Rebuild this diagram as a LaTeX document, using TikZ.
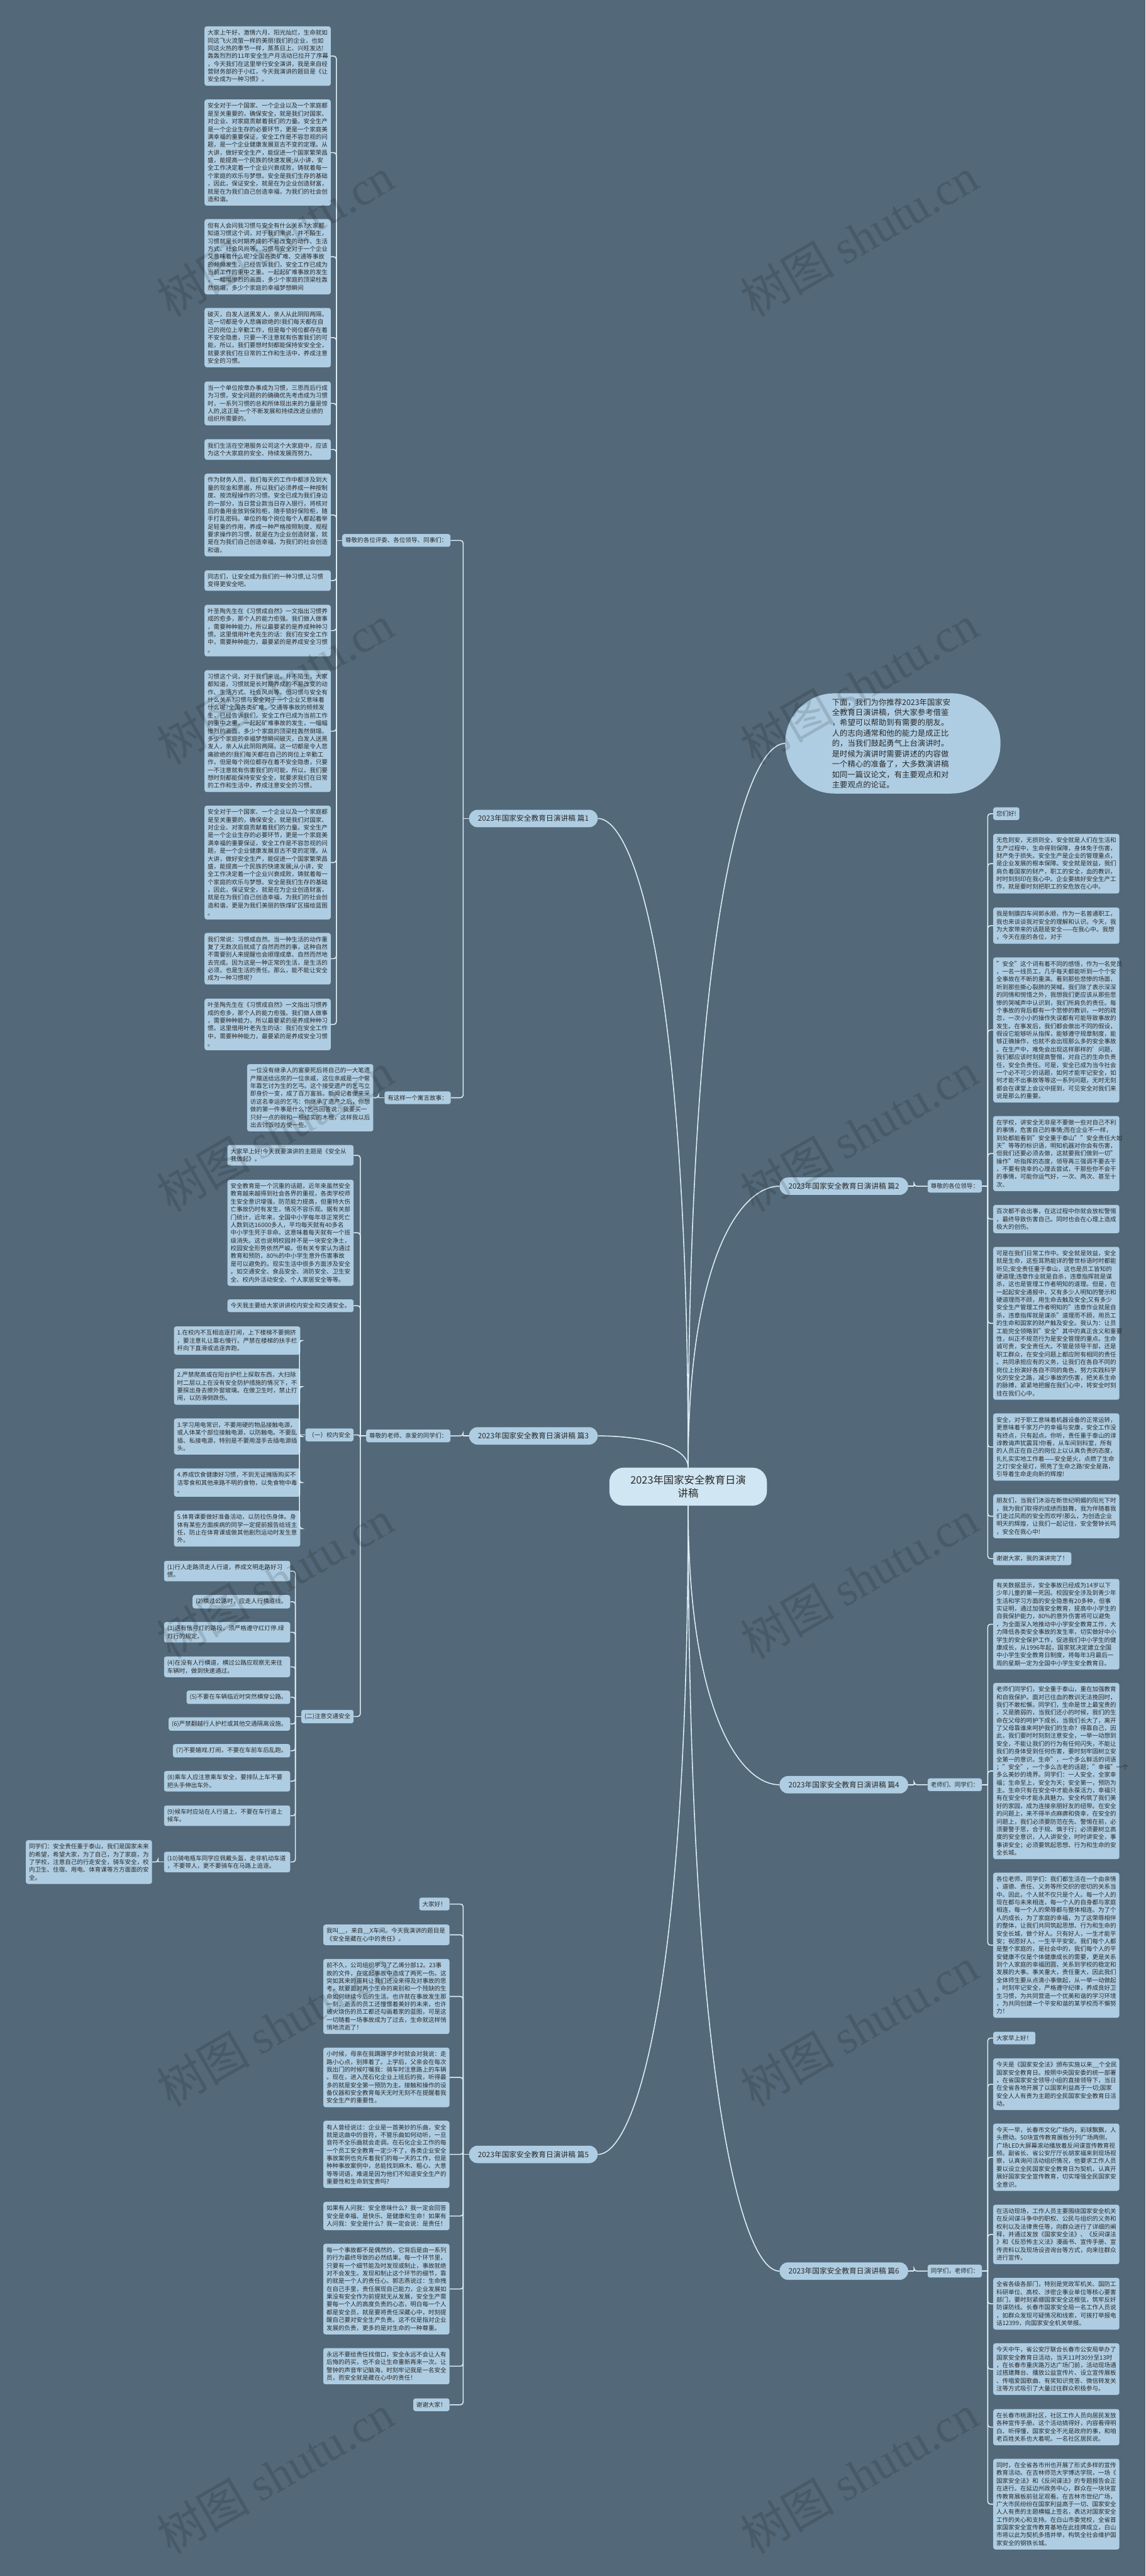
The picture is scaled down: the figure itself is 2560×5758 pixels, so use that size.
\documentclass[tikz,border=0pt]{standalone}
\usepackage{fontspec}
\setmainfont{Noto Sans CJK SC}
\newfontfamily\wmlat{Liberation Serif}
\usetikzlibrary{calc}
\definecolor{bg}{HTML}{536878}
\definecolor{boxc}{HTML}{AFCDE2}
\definecolor{ctrc}{HTML}{D0E6F2}
\definecolor{linec}{HTML}{DCEEF6}
\definecolor{txt}{HTML}{2A2A2A}
\tikzset{
 conn/.style={draw=linec, line width=2.2pt},
 tbox/.style={fill=boxc, rounded corners=5pt, text=txt, font=\fontsize{13.4}{17.4}\selectfont, inner xsep=7pt, inner ysep=8pt, align=left},
 wbox/.style={tbox, text width=268pt},
 lbl/.style={fill=boxc, rounded corners=19pt, text=txt, font=\fontsize{16.5}{20}\selectfont, inner xsep=20pt, minimum height=39pt},
 ctrnode/.style={fill=ctrc, rounded corners=32pt, text=txt, font=\fontsize{23}{30}\selectfont, minimum width=352pt, minimum height=85pt, align=center},
 intronode/.style={fill=boxc, rounded corners=110pt, text=txt, font=\fontsize{17.4}{23.1}\selectfont, minimum width=481pt, minimum height=224pt, text width=272pt, align=left},
 wm/.style={rotate=30, text=black, text opacity=0.13, font=\fontsize{105}{105}\selectfont}
}
\newcommand\lbr[2]{\draw[conn] (#1.west) -- ++(-13,0) coordinate (T#1);
 \foreach \ch in {#2}{\draw[conn, rounded corners=6pt] (T#1) |- (\ch.east);}}
\newcommand\rbr[2]{\draw[conn] (#1.east) -- ++(13,0) coordinate (T#1);
 \foreach \ch in {#2}{\draw[conn, rounded corners=6pt] (T#1) |- (\ch.west);}}
\begin{document}
\begin{tikzpicture}[x=1pt,y=-1pt]
\fill[bg] (0,0) rectangle (2560,5758);
\useasboundingbox (0,0) rectangle (2560,5758);

% centre and intro
\node[ctrnode] (ctr) at (1538,3323) {2023年国家安全教育日演\\讲稿};
\node[intronode] (intro) at (1995.5,1661.7) {下面，我们为你推荐2023年国家安\\全教育日演讲稿，供大家参考借鉴\\，希望可以帮助到有需要的朋友。\\人的志向通常和他的能力是成正比\\的，当我们鼓起勇气上台演讲时。\\是时候为演讲时需要讲述的内容做\\一个精心的准备了，大多数演讲稿\\如同一篇议论文，有主要观点和对\\主要观点的论证。};

% branch labels
\node[lbl,anchor=east] (p1) at (1336,1829.5) {2023年国家安全教育日演讲稿 篇1};
\node[lbl,anchor=west] (p2) at (1742,2651.4) {2023年国家安全教育日演讲稿 篇2};
\node[lbl,anchor=east] (p3) at (1336,3209.5) {2023年国家安全教育日演讲稿 篇3};
\node[lbl,anchor=west] (p4) at (1742,3989.3) {2023年国家安全教育日演讲稿 篇4};
\node[lbl,anchor=east] (p5) at (1336,4815.6) {2023年国家安全教育日演讲稿 篇5};
\node[lbl,anchor=west] (p6) at (1742,5076.4) {2023年国家安全教育日演讲稿 篇6};

% ---------- 篇1 ----------
\node[tbox,anchor=east] (pA) at (1007,1208) {尊敬的各位评委、各位领导、同事们：};
\node[tbox,anchor=east] (pB) at (1007.6,2453.7) {有这样一个寓言故事：};
\node[wbox,anchor=east] (A1) at (739.4,125.3) {大家上午好，激情六月、阳光灿烂，生命就如\\同这飞火流萤一样的美丽!我们的企业，也如\\同这火热的季节一样，蒸蒸日上、兴旺发达!\\轰轰烈烈的11年安全生产月活动已拉开了序幕\\，今天我们在这里举行安全演讲，我是来自经\\营财务部的于小红，今天我演讲的题目是《让\\安全成为一种习惯》。};
\node[wbox,anchor=east] (A2) at (739.4,341) {安全对于一个国家、一个企业以及一个家庭都\\是至关重要的，确保安全，就是我们对国家、\\对企业、对家庭贡献着我们的力量。安全生产\\是一个企业生存的必要环节，更是一个家庭美\\满幸福的重要保证，安全工作是不容忽视的问\\题，是一个企业健康发展亘古不变的定理。从\\大讲，做好安全生产，能促进一个国家繁荣昌\\盛，能提高一个民族的快速发展;从小讲，安\\全工作决定着一个企业兴衰成败，铸就着每一\\个家庭的欢乐与梦想。安全是我们生存的基础\\，因此，保证安全，就是在为企业创造财富，\\就是在为我们自己创造幸福，为我们的社会创\\造和谐。};
\node[wbox,anchor=east] (A3) at (739.4,573.9) {但有人会问我习惯与安全有什么关系?大家都\\知道习惯这个词，对于我们来说，并不陌生，\\习惯就是长时期养成的不易改变的动作、生活\\方式、社会风尚等。习惯与安全对于一个企业\\又意味着什么呢?全国各类矿难、交通等事故\\的频频发生，已经告诉我们，安全工作已成为\\当前工作的重中之重。一起起矿难事故的发生\\，一幅幅惨烈的画面，多少个家庭的顶梁柱轰\\然倒塌，多少个家庭的幸福梦想瞬间};
\node[wbox,anchor=east] (A4) at (739.4,754.6) {破灭，白发人送黑发人，亲人从此阴阳两隔，\\这一切都是令人悲痛欲绝的!我们每天都在自\\己的岗位上辛勤工作，但是每个岗位都存在着\\不安全隐患，只要一不注意就有伤害我们的可\\能，所以，我们要想时刻都能保持安安全全，\\就要求我们在日常的工作和生活中，养成注意\\安全的习惯。};
\node[wbox,anchor=east] (A5) at (739.4,901.7) {当一个单位按章办事成为习惯，三思而后行成\\为习惯，安全问题的的确确优先考虑成为习惯\\时，一系列习惯的总和所体现出来的力量是惊\\人的,这正是一个不断发展和持续改进业绩的\\组织所需要的。};
\node[wbox,anchor=east] (A6) at (739.4,1004.7) {我们生活在空港服务公司这个大家庭中，应该\\为这个大家庭的安全、持续发展而努力。};
\node[wbox,anchor=east] (A7) at (739.4,1151.2) {作为财务人员，我们每天的工作中都涉及到大\\量的现金和票据，所以我们必须养成一种按制\\度、按流程操作的习惯。安全已成为我们身边\\的一部分，当日营业款当日存入银行，将核对\\后的备用金放到保险柜，随手锁好保险柜，随\\手打乱密码。单位的每个岗位每个人都起着举\\足轻重的作用，养成一种严格按照制度、规程\\要求操作的习惯，就是在为企业创造财富，就\\是在为我们自己创造幸福，为我们的社会创造\\和谐。};
\node[wbox,anchor=east] (A8) at (739.4,1297.7) {同志们，让安全成为我们的一种习惯,让习惯\\变得更安全吧。};
\node[wbox,anchor=east] (A9) at (739.4,1409.5) {叶圣陶先生在《习惯成自然》一文指出习惯养\\成的愈多，那个人的能力愈强。我们做人做事\\，需要种种能力，所以最要紧的是养成种种习\\惯。这里借用叶老先生的话：我们在安全工作\\中，需要种种能力，最要紧的是养成安全习惯\\。};
\node[wbox,anchor=east] (A10) at (739.4,1634.3) {习惯这个词，对于我们来说，并不陌生，大家\\都知道，习惯就是长时期养成的不易改变的动\\作、生活方式、社会风尚等。但习惯与安全有\\什么关系?习惯与安全对于一个企业又意味着\\什么呢?全国各类矿难、交通等事故的频频发\\生，已经告诉我们，安全工作已成为当前工作\\的重中之重。一起起矿难事故的发生，一幅幅\\惨烈的画面，多少个家庭的顶梁柱轰然倒塌，\\多少个家庭的幸福梦想瞬间破灭，白发人送黑\\发人，亲人从此阴阳两隔，这一切都是令人悲\\痛欲绝的!我们每天都在自己的岗位上辛勤工\\作，但是每个岗位都存在着不安全隐患，只要\\一不注意就有伤害我们的可能，所以，我们要\\想时刻都能保持安安全全，就要求我们在日常\\的工作和生活中，养成注意安全的习惯。};
\node[wbox,anchor=east] (A11) at (739.4,1928) {安全对于一个国家、一个企业以及一个家庭都\\是至关重要的，确保安全，就是我们对国家、\\对企业、对家庭贡献着我们的力量。安全生产\\是一个企业生存的必要环节，更是一个家庭美\\满幸福的重要保证，安全工作是不容忽视的问\\题，是一个企业健康发展亘古不变的定理。从\\大讲，做好安全生产，能促进一个国家繁荣昌\\盛，能提高一个民族的快速发展;从小讲，安\\全工作决定着一个企业兴衰成败，铸就着每一\\个家庭的欢乐与梦想。安全是我们生存的基础\\，因此，保证安全，就是在为企业创造财富，\\就是在为我们自己创造幸福，为我们的社会创\\造和谐，更是为我们美丽的铁煤矿区描绘蓝图\\。};
\node[wbox,anchor=east] (A12) at (739.4,2142.9) {我们常说：习惯成自然。当一种生活的动作重\\复了无数次后就成了自然而然的事，这种自然\\不需要别人来提醒也会顺理成章、自然而然地\\去完成。因为这是一种正常的生活，是生活的\\必须。也是生活的责任。那么，能不能让安全\\成为一种习惯呢?};
\node[wbox,anchor=east] (A13) at (739.4,2289.9) {叶圣陶先生在《习惯成自然》一文指出习惯养\\成的愈多，那个人的能力愈强。我们做人做事\\，需要种种能力，所以最要紧的是养成种种习\\惯。这里借用叶老先生的话：我们在安全工作\\中，需要种种能力，最要紧的是养成安全习惯\\。};
\node[wbox,anchor=east] (B1) at (834.5,2453.7) {一位没有继承人的富豪死后将自己的一大笔遗\\产赠送给远房的一位亲戚，这位亲戚是一个常\\年靠乞讨为生的乞丐。这个接受遗产的乞丐立\\即身价一变，成了百万富翁。新闻记者便来采\\访这名幸运的乞丐：你继承了遗产之后，你想\\做的第一件事是什么?乞丐回答说：我要买一\\只好一点的碗和一根结实的木棍，这样我以后\\出去讨饭时方便一些。};

% ---------- 篇3 ----------
\node[tbox,anchor=east] (pC) at (1006.8,3209.5) {尊敬的老师、亲爱的同学们：};
\node[wbox,anchor=east] (C1) at (790.5,2582.4) {大家早上好!今天我要演讲的主题是《安全从\\我做起》。};
\node[wbox,anchor=east] (C2) at (790.5,2755.5) {安全教育是一个沉重的话题，近年来虽然安全\\教育越来越得到社会各界的重视，各类学校师\\生安全意识增强，防范能力提高，但重特大伤\\亡事故仍时有发生，情况不容乐观。据有关部\\门统计，近年来，全国中小学每年非正常死亡\\人数到达16000多人，平均每天就有40多名\\中小学生死于非命。这意味着每天就有一个班\\级消失。这也说明校园并不是一块安全净土，\\校园安全形势依然严峻。但有关专家认为通过\\教育和预防，80\%的中小学生意外伤害事故\\是可以避免的。现实生活中很多方面涉及安全\\。如交通安全、食品安全、消防安全、卫生安\\全、校内外活动安全、个人家居安全等等。};
\node[tbox,anchor=east] (C3) at (790.5,2918.6) {今天我主要给大家讲讲校内安全和交通安全。};
\node[tbox,anchor=east] (pD) at (790.5,3207.3) {（一）校内安全};
\node[tbox,anchor=east] (pE) at (790.5,3836.9) {(二)注意交通安全};
\node[wbox,anchor=east] (D1) at (671.2,2996.4) {1.在校内不互相追逐打闹，上下楼梯不要拥挤\\，要注意礼让靠右慢行。严禁在楼梯的扶手栏\\杆向下直滑或追逐奔跑。};
\node[wbox,anchor=east] (D2) at (671.2,3099.4) {2.严禁爬高或在阳台护栏上探取东西，大扫除\\时二层以上在没有安全防护措施的情况下，不\\要探出身去擦外窗玻璃。在做卫生时，禁止打\\闹，以防滑倒跌伤。};
\node[wbox,anchor=east] (D3) at (671.2,3210.9) {3.学习用电常识，不要用硬的物品接触电源，\\或人体某个部位接触电源，以防触电。不要乱\\插、私接电源，特别是不要用湿手去插电源插\\头。};
\node[wbox,anchor=east] (D4) at (671.2,3313.9) {4.养成饮食健康好习惯，不到无证摊贩购买不\\洁零食和其他来路不明的食物，以免食物中毒\\。};
\node[wbox,anchor=east] (D5) at (671.2,3416.7) {5.体育课要做好准备活动，以防拉伤身体。身\\体有某些方面疾病的同学一定提前报告给班主\\任，防止在体育课或做其他剧烈运动时发生意\\外。};
\node[wbox,anchor=east] (E1) at (648.8,3511.7) {(1)行人走路须走人行道，养成文明走路好习\\惯。};
\node[tbox,anchor=east] (E2) at (648.8,3580.2) {(2)横过公路时，应走人行横道线。};
\node[wbox,anchor=east] (E3) at (648.8,3648.5) {(3)遇有信号灯的路段，须严格遵守红灯停.绿\\灯行的规定。};
\node[wbox,anchor=east] (E4) at (648.8,3725.7) {(4)在没有人行横道，横过公路应观察无来往\\车辆时，做到快速通过。};
\node[tbox,anchor=east] (E5) at (648.8,3793.7) {(5)不要在车辆临近时突然横穿公路。};
\node[tbox,anchor=east] (E6) at (648.8,3853.4) {(6)严禁翻越行人护栏或其他交通隔离设施。};
\node[tbox,anchor=east] (E7) at (648.8,3913.3) {(7)不要嬉戏.打闹，不要在车前车后乱跑。};
\node[wbox,anchor=east] (E8) at (648.8,3981.4) {(8)乘车人应注意乘车安全，要排队上车不要\\把头手伸出车外。};
\node[wbox,anchor=east] (E9) at (648.8,4058.6) {(9)候车时应站在人行道上，不要在车行道上\\候车。};
\node[wbox,anchor=east] (E10) at (648.8,4162) {(10)骑电瓶车同学应佩戴头盔，走非机动车道\\，不要带人，更不要骑车在马路上追逐。};
\node[wbox,anchor=east] (F1) at (340,4162) {同学们：安全责任重于泰山，我们是国家未来\\的希望，希望大家，为了自己，为了家庭，为\\了学校，注意自己的行走安全，骑车安全，校\\内卫生、住宿、用电、体育课等方方面面的安\\全。};

% ---------- 篇5 ----------
\node[tbox,anchor=east] (G0) at (1004.8,4256) {大家好！};
\node[wbox,anchor=east] (G1) at (1004.8,4324.8) {我叫\_\_，来自\_\_X车间。今天我演讲的题目是\\《安全是藏在心中的责任》。};
\node[wbox,anchor=east] (G2) at (1004.8,4462.5) {前不久，公司组织学习了乙烯分部12。23事\\故的文件，在这起事故中造成了两死一伤。这\\突如其来的噩耗让我们还没来得及对事故的思\\考，就要面对两个生命的离别和一个残缺的生\\命如何继续今后的生活。也许就在事故发生那\\一刻，逝去的员工还憧憬着美好的未来，也许\\被火烧伤的员工都还勾画着家的蓝图，可是这\\一切随着一场事故成为了过去，生命就这样悄\\悄地流逝了！};
\node[wbox,anchor=east] (G3) at (1004.8,4643.5) {小时候，母亲在我蹒跚学步时就会对我说：走\\路小心点，别摔着了。上学后，父亲会在每次\\我出门的时候叮嘱我：骑车时注意路上的车辆\\。现在，进入茂石化企业上班后的我，听得最\\多的就是安全第一预防为主。接触和操作的设\\备仪器和安全教育每天无时无刻不在提醒着我\\安全生产的重要性。};
\node[wbox,anchor=east] (G4) at (1004.8,4815.6) {有人曾经说过：企业是一首美妙的乐曲，安全\\就是这曲中的音符，不管乐曲如何动听，一旦\\音符不全乐曲就会走调。在石化企业工作的每\\一个员工安全教育一定少不了，各类企业安全\\事故案例也充斥着我们的每一天的工作，但是\\种种事故案例中，总能找到麻木、粗心、大意\\等等词语，难道是因为他们不知道安全生产的\\重要性和生命到宝贵吗?};
\node[wbox,anchor=east] (G5) at (1004.8,4953.3) {如果有人问我：安全意味什么？我一定会回答\\安全是幸福、是快乐、是健康和生命！如果有\\人问我：安全是什么？我一定会说：是责任！};
\node[wbox,anchor=east] (G6) at (1004.8,5116.5) {每一个事故都不是偶然的，它背后是由一系列\\的行为最终导致的必然结果。每一个环节里，\\只要有一个细节能及时发现或制止，事故就绝\\对不会发生。发现和制止这个环节的细节，靠\\的就是一个人的责任心。郭志燕说过：生命拽\\在自己手里，责任展现自己能力，企业发展如\\果没有安全作为前提就无从发展，安全生产需\\要每一个人的高度负责的心态，明白每一个人\\都是安全员，就是要将责任深藏心中，时刻提\\醒自己要对安全生产负责。这不仅是指对企业\\发展的负责，更多的是对生命的一种尊重。};
\node[wbox,anchor=east] (G7) at (1004.8,5289) {永远不要给责任找借口，安全永远不会让人有\\后悔的药买，也不会让生命重新再来一次。让\\警钟的声音牢记脑海，时刻牢记我是一名安全\\员，而安全就是藏在心中的责任！};
\node[tbox,anchor=east] (G8) at (1004.8,5375.2) {谢谢大家！};

% ---------- 篇2 ----------
\node[tbox,anchor=west] (pH) at (2073,2651.4) {尊敬的各位领导：};
\node[tbox,anchor=west] (H1) at (2219.6,1818.8) {您们好!};
\node[wbox,anchor=west] (H2) at (2219.6,1930.4) {无危则安，无损则全，安全就是人们在生活和\\生产过程中，生命得到保障，身体免于伤害，\\财产免于损失。安全生产是企业的管理重点，\\是企业发展的根本保障。安全就是效益，我们\\肩负着国家的财产，职工的安全，血的教训，\\时时刻刻印在我心中。企业要搞好安全生产工\\作，就是要时刻把职工的安危放在心中。};
\node[wbox,anchor=west] (H3) at (2219.6,2069) {我是制膜四车间郭永顺，作为一名普通职工，\\我也来谈谈我对安全的理解和认识。今天，我\\为大家带来的话题是安全——在我心中。我想\\，今天在座的各位，对于};
\node[wbox,anchor=west] (H4) at (2219.6,2302.2) {"安全"这个词有着不同的感悟，作为一名党员\\，一名一线员工，几乎每天都能听到一个个安\\全事故在不断的重演。看到那些悲惨的场面，\\听到那些撕心裂肺的哭喊，我们除了表示深深\\的同情和惋惜之外，我想我们更应该从那些悲\\惨的哭喊声中认识到，我们所肩负的责任。每\\个事故的背后都有一个悲惨的教训，一时的疏\\忽，一次小小的操作失误都有可能导致事故的\\发生。在事发后，我们都会做出不同的假设，\\假设它能够听从指挥，能够遵守规章制度，能\\够正确操作，也就不会出现那么多的安全事故\\。在生产中，难免会出现这样那样的'问题，\\我们都应该时刻提高警惕，对自己的生命负责\\任，安全负责任。可是，安全已成为当今社会\\一个必不可少的话题，如何才能牢记安全，如\\何才能不出事故等等这一系列问题，无时无刻\\都会在课堂上会议中提到，可见安全对我们来\\说是那么的重要。};
\node[wbox,anchor=west] (H5) at (2219.6,2578.4) {在学校，讲安全无非是不要做一些对自己不利\\的事情，危害自己的事情;而在企业不一样，\\到处都能看到"安全重于泰山""安全责任大如\\天"等等的标识语，明知机器对你会有伤害，\\但我们还要必须去做，这就要我们做到一切"\\操作"听指挥的态度，领导再三强调不要去干\\，不要有侥幸的心理去尝试，干那些你不会干\\的事情，可能你运气好，一次、两次、甚至十\\次、};
\node[wbox,anchor=west] (H6) at (2219.6,2724.9) {百次都不会出事，在这过程中你就会放松警惕\\，最终导致伤害自己。同时也会在心理上造成\\极大的创伤。};
\node[wbox,anchor=west] (H7) at (2219.6,2957.8) {可是在我们日常工作中。安全就是效益，安全\\就是生命，这些耳熟能详的警世标语时时都能\\听见;安全责任重于泰山，这也是员工皆知的\\硬道理;违章作业就是自杀，违章指挥就是谋\\杀，这也是管理工作者明知的道理。但是，在\\一起起安全通报中，又有多少人明知的警示和\\硬道理而不顾，用生命去触及安全;又有多少\\安全生产管理工作者明知的"违章作业就是自\\杀，违章指挥就是谋杀"道理而不顾，用员工\\的生命和国家的财产触及安全。我认为：让员\\工能完全领略到"安全"其中的真正含义和重要\\性，纠正不规范行为是安全管理的重点。生命\\诚可贵，安全责任大。不管是领导干部，还是\\职工群众，在安全问题上都应附有相同的责任\\。共同承担应有的义务，让我们在各自不同的\\岗位上扮演好各自不同的角色，努力实践科学\\化的安全之路，减少事故的伤害，把关系生命\\的脉搏，紧紧地把握在我们心中，将安全时刻\\挂在我们心中。};
\node[wbox,anchor=west] (H8) at (2219.6,3234.5) {安全，对于职工意味着机器设备的正常运转，\\更意味着千家万户的幸福与安康，安全工作没\\有终点，只有起点。你听，责任重于泰山的谆\\谆教诲声犹震耳!你看，从车间到科室，所有\\的人员正在自己的岗位上以认真负责的态度，\\扎扎实实地工作着——安全是火，点燃了生命\\之灯!安全是灯，照亮了生命之路!安全是路，\\引导着生命走向新的辉煌!};
\node[wbox,anchor=west] (H9) at (2219.6,3389.2) {朋友们，当我们沐浴在新世纪明媚的阳光下时\\，我为我们取得的成绩而鼓舞，我为伴随着我\\们走过风雨的安全而欢呼!那么，为创造企业\\明天的辉煌，让我们一起记住，安全警钟长鸣\\，安全在我心中!};
\node[tbox,anchor=west] (H10) at (2219.6,3483.9) {谢谢大家，我的演讲完了！};

% ---------- 篇4 ----------
\node[tbox,anchor=west] (pI) at (2073,3989.3) {老师们、同学们：};
\node[wbox,anchor=west] (I1) at (2219.6,3630.6) {有关数据显示，安全事故已经成为14岁以下\\少年儿童的第一死因。校园安全涉及到青少年\\生活和学习方面的安全隐患有20多种，但事\\实证明，通过加强安全教育，提高中小学生的\\自我保护能力，80\%的意外伤害将可以避免\\，为全面深入地推动中小学安全教育工作，大\\力降低各类安全事故的发生率，切实做好中小\\学生的安全保护工作，促进我们中小学生的健\\康成长，从1996年起，国家就决定建立全国\\中小学生安全教育日制度，将每年3月最后一\\周的星期一定为全国中小学生安全教育日。};
\node[wbox,anchor=west] (I2) at (2219.6,3958.6) {老师们同学们，安全重于泰山，重在加强教育\\和自我保护。面对已往血的教训无法挽回时，\\我们不敢松懈。同学们，生命是世上最宝贵的\\，又是脆弱的，当我们还小的时候，我们的生\\命在父母的呵护下成长，当我们长大了，离开\\了父母靠谁来呵护我们的生命？得靠自己，因\\此，我们要时时刻刻注意安全，一举一动想到\\安全，不能让我们的行为有任何闪失，不能让\\我们的身体受到任何伤害，要时刻牢固树立安\\全第一的意识。生命"，一个多么鲜活的词语\\；"安全"，一个多么古老的话题；"幸福"一个\\多么美妙的境界。同学们：一人安全，全家幸\\福；生命至上，安全为天；安全第一，预防为\\主。生命只有在安全中才能永葆活力，幸福只\\有在安全中才能永具魅力。安全构筑了我们美\\好的家园，成为连接亲朋好友的纽带。在安全\\的问题上，来不得半点麻痹和侥幸，在安全的\\问题上，我们必须要防范在先、警惕在前，必\\须要警于思，合于规、慎于行；必须要树立高\\度的安全意识，人人讲安全，时时讲安全，事\\事讲安全；必须要筑起思想、行为和生命的安\\全长城。};
\node[wbox,anchor=west] (I3) at (2219.6,4347.9) {各位老师、同学们：我们都生活在一个由亲情\\、道德、责任、义务等所交织的密切的关系当\\中。因此，个人就不仅只是个人。每一个人的\\现在都与未来相连，每一个人的自身都与家庭\\相连，每一个人的荣辱都与整体相连。为了个\\人的成长，为了家庭的幸福，为了这荣辱相伴\\的整体，让我们共同筑起思想、行为和生命的\\安全长城，做个好人。只有好人，一生才能平\\安；祝愿好人，一生平平安安。我们每个人都\\是整个家庭的，是社会中的，我们每个人的平\\安健康不仅是个体健康成长的需要，更是关系\\到个人家庭的幸福团圆，关系到学校的稳定和\\发展的大事。事关重大，责任重大，因此我们\\全体师生要从点滴小事做起，从一举一动做起\\，时刻牢记安全，严格遵守纪律，养成良好卫\\生习惯，为共同营造一个优美和谐的学习环境\\，为共同创建一个平安和谐的某学校而不懈努\\力！};

% ---------- 篇6 ----------
\node[tbox,anchor=west] (pJ) at (2073,5076.4) {同学们，老师们：};
\node[tbox,anchor=west] (J1) at (2219.6,4555.5) {大家早上好！};
\node[wbox,anchor=west] (J2) at (2219.6,4658.7) {今天是《国家安全法》颁布实施以来\_\_个全民\\国家安全教育日。按照中央国安委的统一部署\\，在省国家安全领导小组的直接领导下，当日\\在全省各地开展了以国家利益高于一切;国家\\安全人人有责为主题的全民国家安全教育日活\\动。};
\node[wbox,anchor=west] (J3) at (2219.6,4821.8) {今天一早，长春市文化广场内，彩球飘飘，人\\头攒动。50块宣传教育展板分列广场两侧，\\广场LED大屏幕滚动播放着反间谍宣传教育视\\频。副省长、省公安厅厅长胡家福来到现场视\\察，认真询问活动组织情况，他要求工作人员\\要以设立全民国家安全教育日为契机，认真开\\展好国家安全宣传教育，切实增强全民国家安\\全意识。};
\node[wbox,anchor=west] (J4) at (2219.6,4994.5) {在活动现场，工作人员主要围绕国家安全机关\\在反间谍斗争中的职权、公民与组织的义务和\\权利以及法律责任等，向群众进行了详细的阐\\释，并通过发放《国家安全法》、《反间谍法\\》和《反恐怖主义法》漫画书、宣传手册、宣\\传资料以及现场设咨询台等方式，向来往群众\\进行宣传。};
\node[wbox,anchor=west] (J5) at (2219.6,5149.4) {全省各级各部门，特别是党政军机关、国防工\\科研单位、高校、涉密企事业单位等核心要害\\部门，要时刻紧绷国家安全这根弦，筑牢反奸\\防谍防线。长春市国家安全局一名工作人员说\\，如群众发现可疑情况和线索，可拨打举报电\\话12399，向国家安全机关举报。};
\node[wbox,anchor=west] (J6) at (2219.6,5295.4) {今天中午，省公安厅联合长春市公安局举办了\\国家安全教育日活动，当天11时30分至13时\\，在长春市重庆路万达广场门前，活动现场通\\过搭建舞台、播放公益宣传片、设立宣传展板\\、传唱爱国歌曲、有奖知识竞答、微信转发关\\注等方式吸引了大量过往群众积极参与。};
\node[wbox,anchor=west] (J7) at (2219.6,5425.3) {在长春市桃源社区，社区工作人员向居民发放\\各种宣传手册。这个活动搞得好，内容看得明\\白、听得懂，国家安全不光是政府的事，和咱\\老百姓关系也大着呢。一名社区居民说。};
\node[wbox,anchor=west] (J8) at (2219.6,5597.3) {同时，在全省各市州也开展了形式多样的宣传\\教育活动。在吉林师范大学博达学院，一场《\\国家安全法》和《反间谍法》的专题报告会正\\在进行。在延边州政务中心，群众在一块块宣\\传教育展板前驻足观看。在吉林市世纪广场，\\广大市民纷纷在国家利益高于一切、国家安全\\人人有责的主题横幅上签名，表达对国家安全\\工作的关心和支持。在白山市委党校，全省首\\家国家安全宣传教育基地在此挂牌成立，白山\\市将以此为契机多措并举，构筑全社会维护国\\家安全的钢铁长城。};

% ---------- connectors ----------
\draw[conn] (ctr.north) .. controls (1538,2075) and (1664,1662) .. (intro.west);
\draw[conn] (ctr.north) .. controls (1538,2199) and (1421,1829.5) .. (p1.east);
\draw[conn] (ctr.north) .. controls (1538,2812) and (1656,2651.4) .. (p2.west);
\draw[conn] (ctr.north) .. controls (1538,3227) and (1421,3209.5) .. (p3.east);
\draw[conn] (ctr.south) .. controls (1538,3830) and (1656,3989.3) .. (p4.west);
\draw[conn] (ctr.south) .. controls (1538,4445) and (1421,4815.6) .. (p5.east);
\draw[conn] (ctr.south) .. controls (1538,4640) and (1656,5076.4) .. (p6.west);

\lbr{p1}{pA,pB}
\lbr{pA}{A1,A2,A3,A4,A5,A6,A7,A8,A9,A10,A11,A12,A13}
\lbr{pB}{B1}
\lbr{p3}{pC}
\lbr{pC}{C1,C2,C3,pD,pE}
\lbr{pD}{D1,D2,D3,D4,D5}
\lbr{pE}{E1,E2,E3,E4,E5,E6,E7,E8,E9,E10}
\lbr{E10}{F1}
\lbr{p5}{G0,G1,G2,G3,G4,G5,G6,G7,G8}
\rbr{p2}{pH}
\rbr{pH}{H1,H2,H3,H4,H5,H6,H7,H8,H9,H10}
\rbr{p4}{pI}
\rbr{pI}{I1,I2,I3}
\rbr{p6}{pJ}
\rbr{pJ}{J1,J2,J3,J4,J5,J6,J7,J8}

% ---------- watermarks ----------
\foreach \wy in {530,1530,2530,3530,4530,5530}{
  \node[wm] (wl\wy) at (615,\wy) {树图 {\wmlat shutu.cn}};
  \node[wm] (wr\wy) at (1920,\wy) {树图 {\wmlat shutu.cn}};
}
\end{tikzpicture}
\end{document}
